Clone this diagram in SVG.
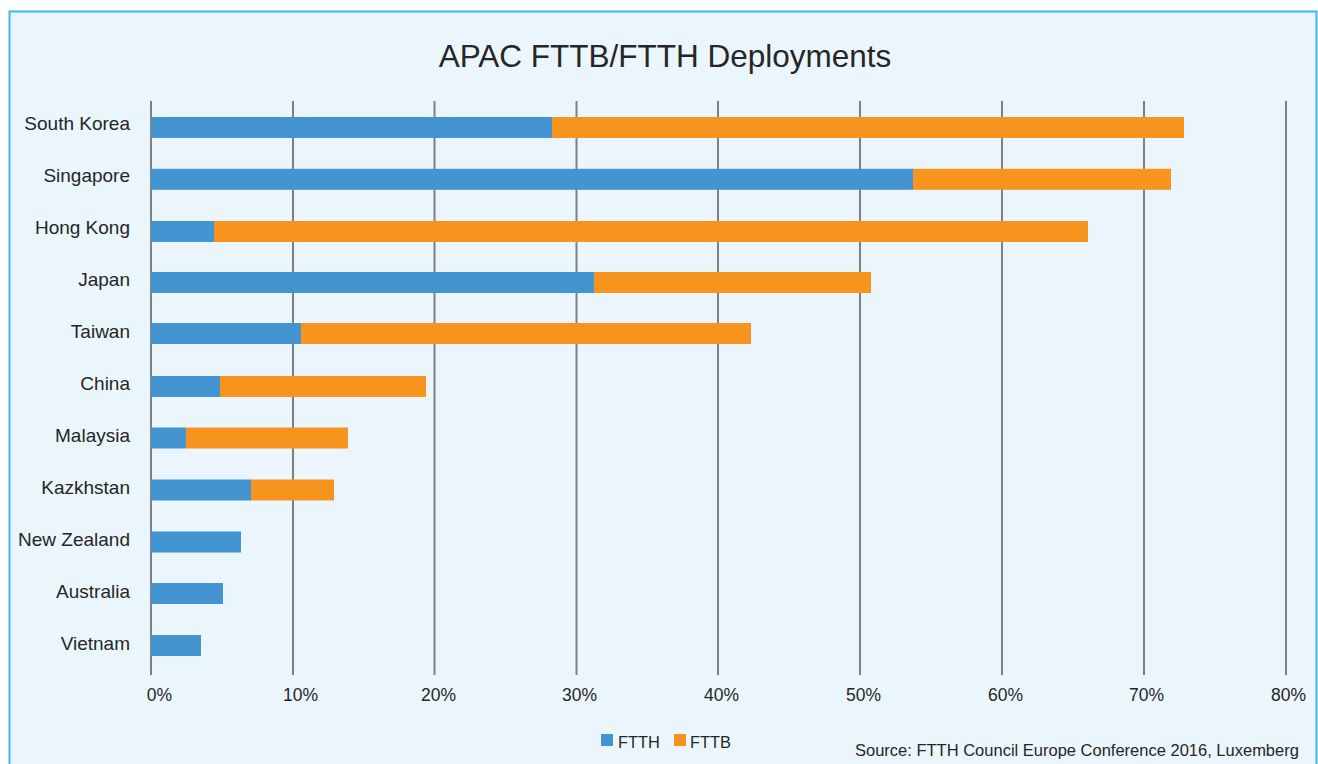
<svg xmlns="http://www.w3.org/2000/svg" width="1318" height="764" viewBox="0 0 1318 764">
<style>
.t{font-family:"Liberation Sans",Arial,sans-serif;fill:#262626}
.cat{font-size:19px;text-anchor:end}
.ax{font-size:17.5px;text-anchor:middle}
.grid{stroke:#808080;stroke-width:2}
.h{fill:#4394D0}
.b{fill:#F7941E}
</style>
<rect x="0" y="0" width="1318" height="764" fill="#ffffff"/>
<rect x="9.5" y="11.5" width="1307" height="770" fill="#EAF6FC" stroke="#3DB7EB" stroke-width="2"/>
<text class="t" x="665" y="67" font-size="31.5" text-anchor="middle">APAC FTTB/FTTH Deployments</text>
<g id="gridlines">
<line class="grid" x1="151" y1="101" x2="151" y2="675"/>
<line class="grid" x1="293" y1="101" x2="293" y2="675"/>
<line class="grid" x1="434.5" y1="101" x2="434.5" y2="675"/>
<line class="grid" x1="576.5" y1="101" x2="576.5" y2="675"/>
<line class="grid" x1="718" y1="101" x2="718" y2="675"/>
<line class="grid" x1="860" y1="101" x2="860" y2="675"/>
<line class="grid" x1="1002" y1="101" x2="1002" y2="675"/>
<line class="grid" x1="1144" y1="101" x2="1144" y2="675"/>
<line class="grid" x1="1286" y1="101" x2="1286" y2="675"/>
</g>
<g id="axis-labels">
<text class="t ax" x="159.5" y="701">0%</text>
<text class="t ax" x="300.5" y="701">10%</text>
<text class="t ax" x="438.5" y="701">20%</text>
<text class="t ax" x="579.5" y="701">30%</text>
<text class="t ax" x="721.5" y="701">40%</text>
<text class="t ax" x="863.5" y="701">50%</text>
<text class="t ax" x="1005.5" y="701">60%</text>
<text class="t ax" x="1146.5" y="701">70%</text>
<text class="t ax" x="1288.5" y="701">80%</text>
</g>
<g id="south-korea"><text class="t cat" x="130" y="130">South Korea</text><rect class="h" x="151" y="117" width="401" height="21"/><rect class="b" x="552" y="117" width="632" height="21"/></g>
<g id="singapore"><text class="t cat" x="130" y="182">Singapore</text><rect class="h" x="151" y="168.8" width="762" height="21"/><rect class="b" x="913" y="168.8" width="258" height="21"/></g>
<g id="hong-kong"><text class="t cat" x="130" y="234">Hong Kong</text><rect class="h" x="151" y="221" width="63" height="21"/><rect class="b" x="214" y="221" width="874" height="21"/></g>
<g id="japan"><text class="t cat" x="130" y="286">Japan</text><rect class="h" x="151" y="272" width="443" height="21"/><rect class="b" x="594" y="272" width="277" height="21"/></g>
<g id="taiwan"><text class="t cat" x="130" y="338">Taiwan</text><rect class="h" x="151" y="323" width="150" height="21"/><rect class="b" x="301" y="323" width="450" height="21"/></g>
<g id="china"><text class="t cat" x="130" y="390">China</text><rect class="h" x="151" y="376" width="69" height="21"/><rect class="b" x="220" y="376" width="206" height="21"/></g>
<g id="malaysia"><text class="t cat" x="130" y="442">Malaysia</text><rect class="h" x="151" y="427.5" width="35" height="21"/><rect class="b" x="186" y="427.5" width="162" height="21"/></g>
<g id="kazkhstan"><text class="t cat" x="130" y="494">Kazkhstan</text><rect class="h" x="151" y="479.5" width="100" height="21"/><rect class="b" x="251" y="479.5" width="83" height="21"/></g>
<g id="new-zealand"><text class="t cat" x="130" y="546">New Zealand</text><rect class="h" x="151" y="531.5" width="90" height="21"/></g>
<g id="australia"><text class="t cat" x="130" y="598">Australia</text><rect class="h" x="151" y="583" width="72" height="21"/></g>
<g id="vietnam"><text class="t cat" x="130" y="650">Vietnam</text><rect class="h" x="151" y="635" width="50" height="21"/></g>
<g id="legend">
<rect class="h" x="601" y="734" width="12" height="12"/>
<text class="t" x="618" y="747.5" font-size="16.4">FTTH</text>
<rect class="b" x="674" y="734" width="12" height="12"/>
<text class="t" x="690" y="747.5" font-size="16.4">FTTB</text>
</g>
<text class="t" x="855" y="756" font-size="16.5">Source: FTTH Council Europe Conference 2016, Luxemberg</text>
</svg>
